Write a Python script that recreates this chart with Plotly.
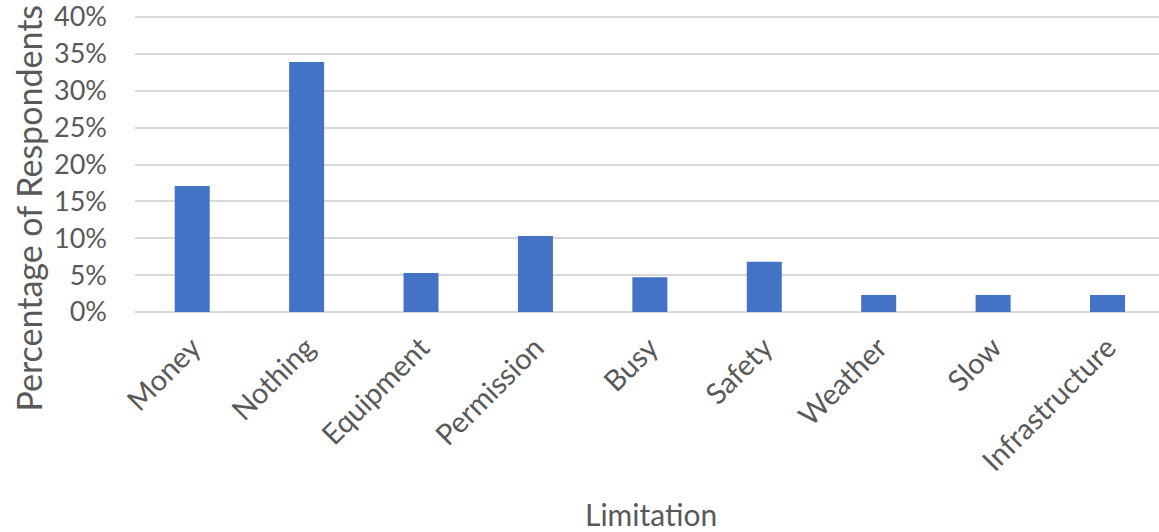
import plotly.graph_objects as go

categories = ["Money", "Nothing", "Equipment", "Permission", "Busy",
              "Safety", "Weather", "Slow", "Infrastructure"]
percentages = [0.171, 0.339, 0.053, 0.103, 0.047, 0.068, 0.023, 0.023, 0.023]
y_tickvals = [0, 0.05, 0.10, 0.15, 0.20, 0.25, 0.30, 0.35, 0.40]
y_ticktext = ["0%", "5%", "10%", "15%", "20%", "25%", "30%", "35%", "40%"]
x_title = "Limitation"
y_title = "Percentage of Respondents"

FONT = "Lato"
TXT = "#595959"

fig = go.Figure(
    go.Bar(
        x=categories,
        y=percentages,
        marker=dict(color="#4472C4", line=dict(width=0)),
    )
)

fig.update_layout(
    width=1159,
    height=532,
    margin=dict(l=135, r=0, t=15, b=220),
    paper_bgcolor="white",
    plot_bgcolor="white",
    bargap=0.694,
    showlegend=False,
    font=dict(family=FONT, color=TXT, size=27),
    annotations=[
        dict(text=x_title, xref="paper", yref="paper", x=0.504, y=-0.68,
             xanchor="center", yanchor="middle", showarrow=False,
             font=dict(family=FONT, size=30, color=TXT)),
        dict(text=y_title, xref="paper", yref="paper", x=-0.104, y=0.35,
             xanchor="center", yanchor="middle", showarrow=False, textangle=-90,
             font=dict(family=FONT, size=34, color=TXT)),
    ],
)

fig.update_xaxes(
    range=[-0.5, 8.45],
    tickangle=-45,
    tickfont=dict(family=FONT, size=29, color=TXT),
    showgrid=False,
    showline=False,
    ticks="",
    ticklabelstandoff=12,
    ticklabeloverflow="allow",
    automargin=False,
)

fig.update_yaxes(
    range=[0, 0.4027],
    tickvals=y_tickvals,
    ticktext=y_ticktext,
    tickfont=dict(family=FONT, size=27, color=TXT),
    showgrid=True,
    gridcolor="#D9D9D9",
    gridwidth=2,
    zeroline=True,
    zerolinecolor="#D9D9D9",
    zerolinewidth=2,
    showline=False,
    ticks="",
    ticklabelstandoff=27,
    ticklabeloverflow="allow",
    automargin=False,
)

fig.write_html(
    "out.html",
    config={"displayModeBar": False},
    post_script="document.body.style.margin='0px';",
)
